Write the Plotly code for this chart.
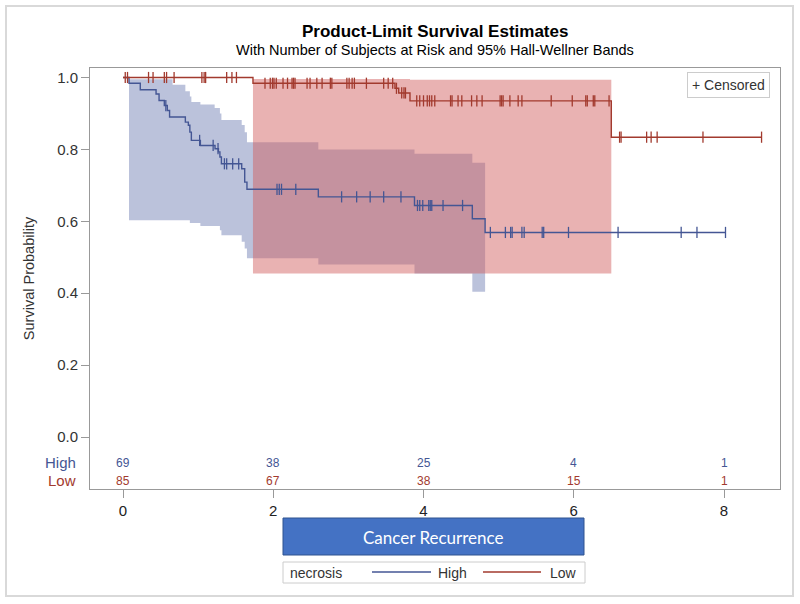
import plotly.graph_objects as go

# ---------------- data ----------------
high_event_times = [0.08, 0.23, 0.44, 0.48, 0.55, 0.59, 0.62, 0.83, 0.87, 0.89, 0.91, 1.03,
                    1.225, 1.27, 1.29, 1.31, 1.58, 1.62, 1.65, 2.60, 3.88, 4.65, 4.82]
high_surv = [0.984, 0.966, 0.954, 0.936, 0.922, 0.908, 0.890, 0.876, 0.867, 0.848, 0.825, 0.811,
             0.802, 0.793, 0.779, 0.760, 0.746, 0.709, 0.689, 0.668, 0.644, 0.607, 0.569]
high_censor = [0.57, 1.02, 1.20, 1.265, 1.35, 1.38, 1.46, 1.54, 2.05, 2.08, 2.11, 2.30, 2.91, 3.11,
               3.29, 3.47, 3.70, 3.92, 3.95, 3.99, 4.07, 4.09, 4.11, 4.26, 4.52, 4.89, 5.09, 5.16,
               5.18, 5.31, 5.34, 5.58, 5.60, 5.93, 6.59, 7.43, 7.64, 8.02]

low_event_times = [1.73, 3.62, 3.67, 3.82, 6.50]
low_surv = [0.984, 0.970, 0.957, 0.935, 0.834]
low_censor = [0.03, 0.06, 0.34, 0.40, 0.55, 0.58, 0.68, 1.05, 1.08, 1.10, 1.38, 1.45, 1.51, 1.89,
              1.96, 1.99, 2.01, 2.04, 2.13, 2.19, 2.25, 2.27, 2.29, 2.45, 2.49, 2.58, 2.65, 2.76,
              2.78, 2.98, 3.01, 3.05, 3.08, 3.24, 3.47, 3.53, 3.59, 3.64, 3.71, 3.74, 3.76, 3.91,
              3.95, 4.00, 4.05, 4.08, 4.11, 4.15, 4.36, 4.38, 4.46, 4.51, 4.64, 4.71, 4.78, 5.02,
              5.04, 5.06, 5.15, 5.26, 5.31, 5.70, 5.98, 6.16, 6.18, 6.26, 6.28, 6.47, 6.61, 6.63,
              6.97, 7.03, 7.11, 7.72, 8.50]

high_band_t = [0.08, 0.66, 0.83, 0.89, 0.91, 1.03, 1.22, 1.29, 1.31, 1.58, 1.62, 1.65, 2.60, 3.88, 4.65, 4.82]
high_band_upper = [0.995, 0.980, 0.962, 0.947, 0.932, 0.925, 0.915, 0.900, 0.882, 0.868, 0.848, 0.820,
                   0.800, 0.788, 0.763, 0.763]
high_band_lower = [0.603, 0.603, 0.603, 0.595, 0.595, 0.587, 0.587, 0.575, 0.561, 0.543, 0.524, 0.497,
                   0.480, 0.455, 0.404, 0.404]

low_band_t = [1.73, 3.82, 6.50]
low_band_upper = [0.996, 0.994, 0.994]
low_band_lower = [0.455, 0.455, 0.455]

risk_times = [0, 2, 4, 6, 8]
high_at_risk = [69, 38, 25, 4, 1]
low_at_risk = [85, 67, 38, 15, 1]

x_ticks = [0, 2, 4, 6, 8]
y_ticks = [0.0, 0.2, 0.4, 0.6, 0.8, 1.0]

# ---------------- styling ----------------
BLUE = "#445694"
RED = "#A23A2E"
BLUE_FILL = "rgba(111,126,179,0.47)"
RED_FILL = "rgba(208,91,91,0.47)"
FONT = "Liberation Sans, Arial, sans-serif"
TXT = "#333333"

W, H = 800, 604
L, R, T, B = 90, 780, 68, 489  # plot frame in pixels


def px_x(p):
    return (p - L) / (R - L)


def px_y(p):
    return (B - p) / (B - T)


def surv_at(t, times, surv):
    s = 1.0
    for tt, ss in zip(times, surv):
        if tt <= t:
            s = ss
    return s


def note(x, y, text, size, color, family=FONT, xanchor="center", xref="paper", yref="paper", **kw):
    fig.add_annotation(x=x, y=y, xref=xref, yref=yref, text=text, showarrow=False,
                       xanchor=xanchor, yanchor="middle",
                       font=dict(family=family, size=size, color=color), **kw)


fig = go.Figure()

# confidence bands (blue first, red over it)
for bt, bu, bl, fillc in [(high_band_t, high_band_upper, high_band_lower, BLUE_FILL),
                          (low_band_t, low_band_upper, low_band_lower, RED_FILL)]:
    fig.add_trace(go.Scatter(x=bt, y=bl, mode="lines", line=dict(width=0, shape="hv"),
                             hoverinfo="skip", showlegend=False))
    fig.add_trace(go.Scatter(x=bt, y=bu, mode="lines", line=dict(width=0, shape="hv"),
                             fill="tonexty", fillcolor=fillc, hoverinfo="skip", showlegend=False))

# survival curves
for name, et, sv, cens, col in [("High", high_event_times, high_surv, high_censor, BLUE),
                                ("Low", low_event_times, low_surv, low_censor, RED)]:
    xs = [0.0] + et + [max(cens)]
    ys = [1.0] + sv + [sv[-1]]
    fig.add_trace(go.Scatter(x=xs, y=ys, mode="lines", name=name,
                             line=dict(color=col, width=1.4, shape="hv"), showlegend=False))
    fig.add_trace(go.Scatter(x=cens, y=[surv_at(c, et, sv) for c in cens], mode="markers",
                             marker=dict(symbol="line-ns", size=8,
                                         line=dict(color=col, width=1.3)),
                             showlegend=False, hoverinfo="skip"))

# at-risk table
y_high_row = -0.072
y_low_row = -0.122
for t, n in zip(risk_times, high_at_risk):
    note(t, y_high_row, str(n), 12, BLUE, xref="x", yref="y")
for t, n in zip(risk_times, low_at_risk):
    note(t, y_low_row, str(n), 12, RED, xref="x", yref="y")
note(px_x(78), y_high_row, "High", 15, BLUE, xanchor="right", yref="y")
note(px_x(78), y_low_row, "Low", 15, RED, xanchor="right", yref="y")

# titles
note(0.5, px_y(32), "<b>Product-Limit Survival Estimates</b>", 17, "#000000")
note(0.5, px_y(50), "With Number of Subjects at Risk and 95% Hall-Wellner Bands", 14.5, "#000000")

# censored legend box
note(px_x(728), px_y(85), "+ Censored", 14, TXT, bordercolor="#CCCCCC", borderwidth=1,
     borderpad=4, bgcolor="white")

# Cancer Recurrence box
fig.add_shape(type="rect", xref="paper", yref="paper", x0=px_x(283), x1=px_x(584),
              y0=px_y(555), y1=px_y(518), fillcolor="#4472C4", line=dict(color="#2F528F", width=1))
note(px_x(433), px_y(537), "Cancer Recurrence", 17, "white", family="Lato, Open Sans, sans-serif")

# bottom legend (necrosis)
fig.add_shape(type="rect", xref="paper", yref="paper", x0=px_x(283), x1=px_x(585),
              y0=px_y(583), y1=px_y(562), fillcolor="white", line=dict(color="#CCCCCC", width=1))
note(px_x(288), px_y(573), "necrosis", 14, TXT, xanchor="left")
fig.add_shape(type="line", xref="paper", yref="paper", x0=px_x(372), x1=px_x(431),
              y0=px_y(572), y1=px_y(572), line=dict(color=BLUE, width=1.4))
note(px_x(436), px_y(573), "High", 14, TXT, xanchor="left")
fig.add_shape(type="line", xref="paper", yref="paper", x0=px_x(483), x1=px_x(541),
              y0=px_y(572), y1=px_y(572), line=dict(color=RED, width=1.4))
note(px_x(548), px_y(573), "Low", 14, TXT, xanchor="left")

# outer border
fig.add_shape(type="rect", xref="paper", yref="paper", x0=px_x(6), x1=px_x(793),
              y0=px_y(596), y1=px_y(6), line=dict(color="#D9D9D9", width=2), layer="below")

x_per_px = 8 / (724 - 123)
y_per_px = 1 / (437 - 77.5)
fig.update_layout(
    width=W, height=H,
    margin=dict(l=L, r=W - R, t=T, b=H - B),
    paper_bgcolor="white", plot_bgcolor="white",
    showlegend=False,
    xaxis=dict(range=[(L - 123) * x_per_px, (R - 123) * x_per_px], tickvals=x_ticks,
               ticks="outside", ticklen=8, tickcolor="#999999", showgrid=False, zeroline=False,
               showline=True, linecolor="#999999", linewidth=1, mirror=True,
               tickfont=dict(family=FONT, size=15, color="#222222")),
    yaxis=dict(range=[-(B - 437) * y_per_px, 1 + (77.5 - T) * y_per_px], tickvals=y_ticks,
               ticktext=[f"{v:.1f}" for v in y_ticks],
               ticks="outside", ticklen=8, tickcolor="#999999", showgrid=False, zeroline=False,
               showline=True, linecolor="#999999", linewidth=1, mirror=True,
               tickfont=dict(family=FONT, size=15, color=TXT),
               title=dict(text="Survival Probability", font=dict(family=FONT, size=14.5, color=TXT),
                          standoff=19)),
)

fig.write_html("out.html", config={"displayModeBar": False},
               post_script="document.body.style.margin='0';document.body.style.overflow='hidden';")
